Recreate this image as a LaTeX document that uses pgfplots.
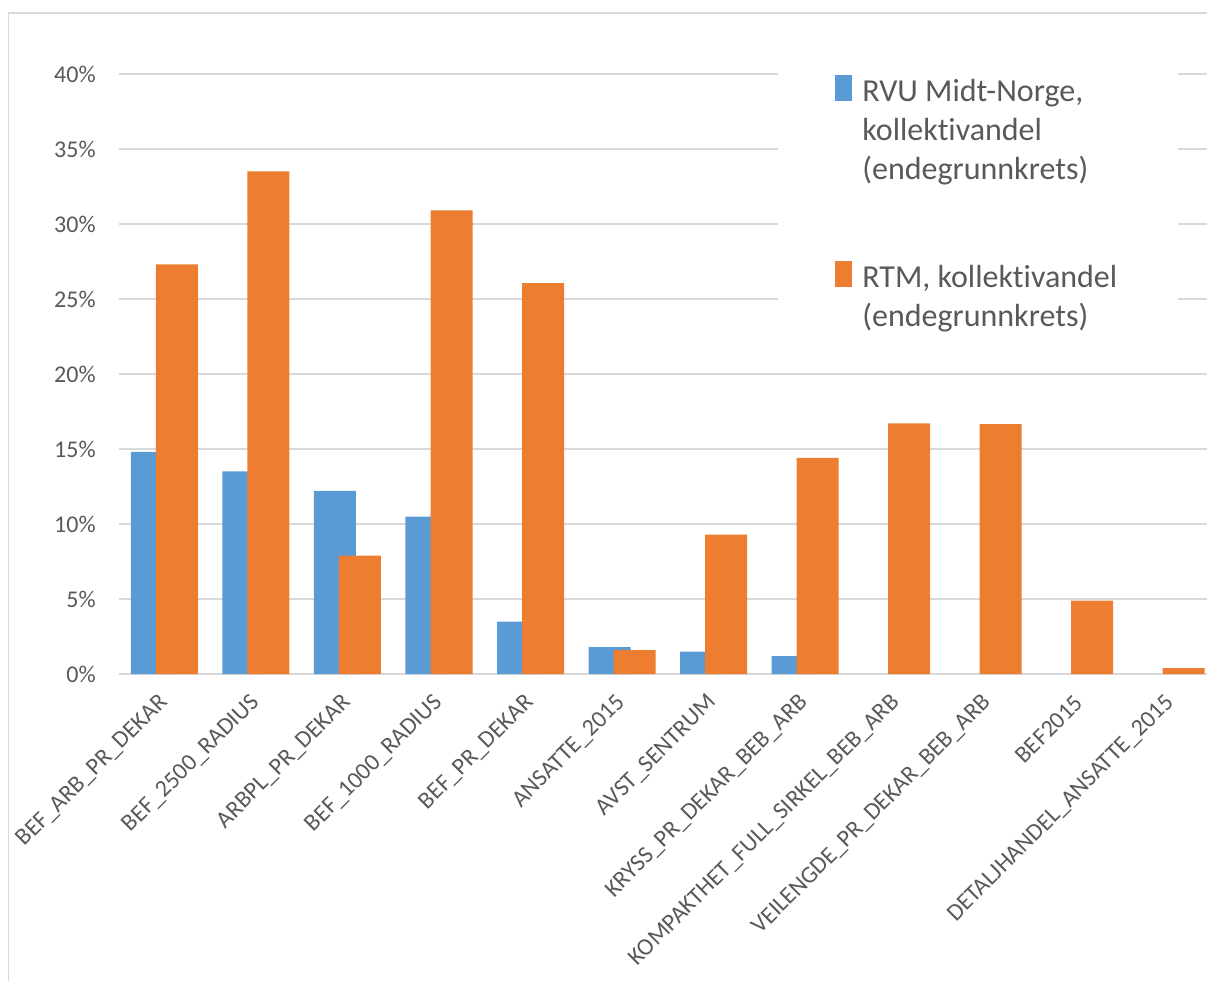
\documentclass[border=0pt]{standalone}
\usepackage{fontspec}
\setmainfont{Carlito}[Ligatures=CommonOff]
\usepackage{pgfplots}
\pgfplotsset{compat=1.18}

\definecolor{rvublue}{HTML}{5B9BD5}
\definecolor{rtmorange}{HTML}{ED7D31}
\definecolor{gridgray}{HTML}{D9D9D9}
\definecolor{labelgray}{HTML}{595959}

\begin{document}
\begin{tikzpicture}
\useasboundingbox (0pt,0pt) rectangle (603.5pt,490.5pt);
% chart area frame
\draw[gridgray, line width=0.9pt] (4.25pt,-10pt) -- (4.25pt,484pt) -- (640pt,484pt);
\begin{axis}[
  at={(59.375pt,153.5pt)}, anchor=south west,
  scale only axis, width=549pt, height=300pt,
  ybar, bar width=21pt,
  xmin=-0.5, xmax=11.5, ymin=0, ymax=40,
  axis x line*=bottom, axis y line*=left,
  x axis line style={gridgray, line width=0.9pt},
  y axis line style={draw=none},
  major tick length=0pt, tick style={draw=none},
  ymajorgrids, grid style={gridgray, line width=0.85pt},
  ytick={0,5,...,40},
  yticklabel={\pgfmathprintnumber{\tick}\%},
  /pgf/number format/assume math mode=true,
  yticklabel style={font=\fontsize{12}{14}\selectfont, text=labelgray, anchor=east, xshift=-8pt},
  xtick={0,...,11},
  xticklabels={BEF\_ARB\_PR\_DEKAR, BEF\_2500\_RADIUS, ARBPL\_PR\_DEKAR, BEF\_1000\_RADIUS,
    BEF\_PR\_DEKAR, ANSATTE\_2015, AVST\_SENTRUM, KRYSS\_PR\_DEKAR\_BEB\_ARB,
    KOMPAKTHET\_FULL\_SIRKEL\_BEB\_ARB, VEILENGDE\_PR\_DEKAR\_BEB\_ARB, BEF2015,
    DETALJHANDEL\_ANSATTE\_2015},
  xticklabel style={font=\fontsize{12}{14}\selectfont, text=labelgray, rotate=45,
    anchor=east, xshift=-5.5pt, yshift=-8.7pt},
  legend image code/.code={
    \path (0pt,0pt) rectangle (8.5pt,-13pt);
    \fill[#1, draw=none] (0pt,-4.5pt) rectangle (8.5pt,-13pt);
  },
  legend style={at={(0.6004,1.033)}, anchor=north west, draw=none, fill=white,
    inner xsep=28.5pt, inner ysep=10pt,
    font=\fontsize{16}{19.5}\selectfont, text=labelgray,
    cells={anchor=north west, align=left, inner sep=0pt},
    row sep=37.2pt, column sep=3pt},
]
\addplot[fill=rvublue, draw=none, bar shift=-6.25pt] coordinates {
  (0,14.8) (1,13.5) (2,12.2) (3,10.5) (4,3.5) (5,1.8) (6,1.5) (7,1.2)
};
\addlegendentry{RVU Midt-Norge,\\kollektivandel\\(endegrunnkrets)}
\addplot[fill=rtmorange, draw=none, bar shift=6.25pt] coordinates {
  (0,27.3) (1,33.5) (2,7.9) (3,30.9) (4,26.05) (5,1.6) (6,9.3) (7,14.4)
  (8,16.7) (9,16.65) (10,4.9) (11,0.4)
};
\addlegendentry{RTM, kollektivandel\\(endegrunnkrets)}
\end{axis}
\end{tikzpicture}
\end{document}
